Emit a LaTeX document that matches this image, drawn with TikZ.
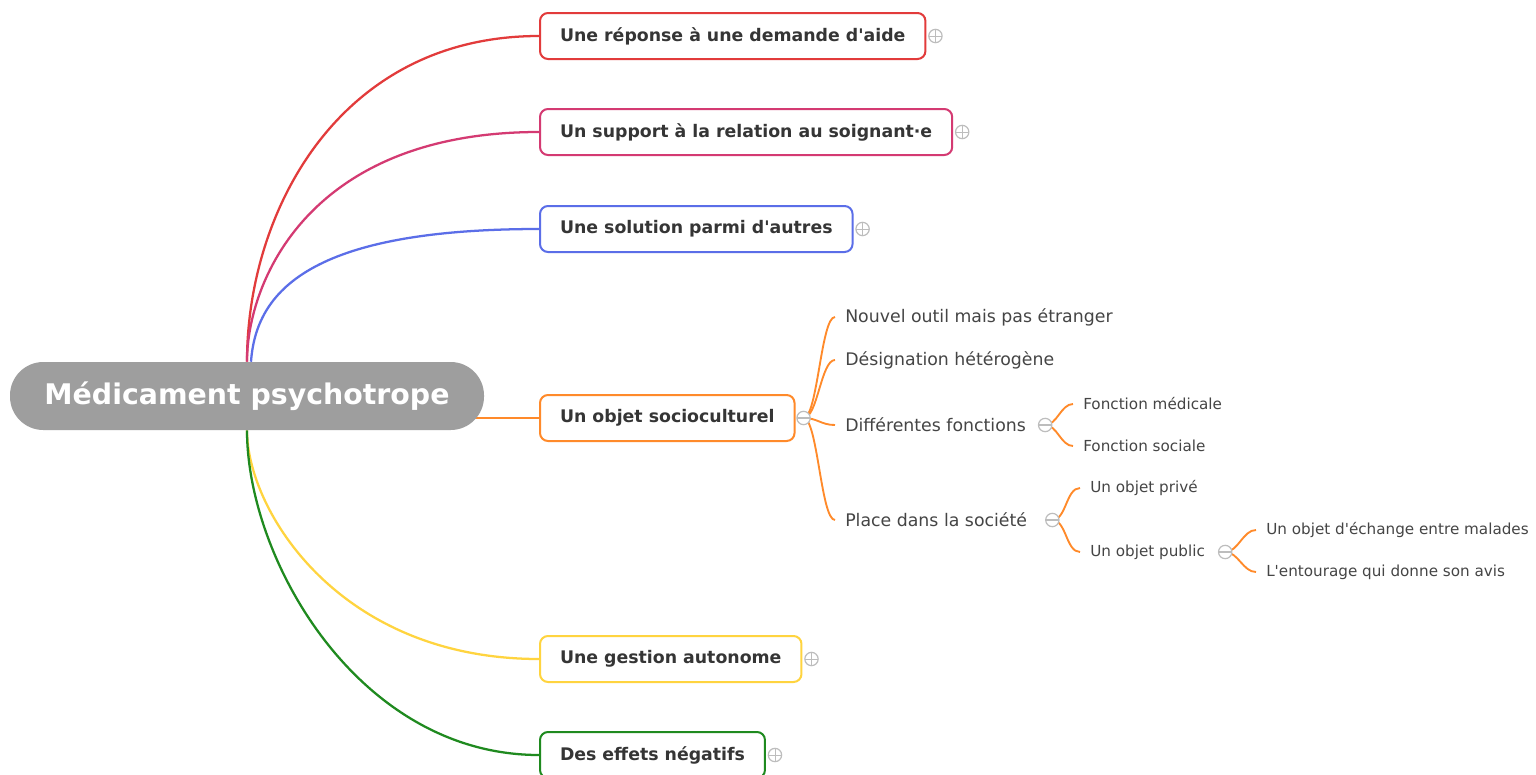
\documentclass[tikz,border=0pt]{standalone}
\usepackage{fontspec}
\setmainfont{DejaVu Sans}[Ligatures=TeXOff]
\usetikzlibrary{calc}
\definecolor{cred}{HTML}{E23B3B}
\definecolor{cpink}{HTML}{D43A72}
\definecolor{cblue}{HTML}{5B6EE8}
\definecolor{corange}{HTML}{FF8A2A}
\definecolor{cyellow}{HTML}{FFD43F}
\definecolor{cgreen}{HTML}{1F8A1F}
\definecolor{ccentral}{HTML}{9E9E9E}
\definecolor{ctext}{HTML}{353535}
\definecolor{cleaf}{HTML}{454545}
\definecolor{ctog}{HTML}{BDBDBD}
\pgfdeclarelayer{bg}
\pgfsetlayers{bg,main}
\tikzset{
  central/.style={fill=ccentral, rounded corners=25pt, minimum width=355.5pt, minimum height=51pt,
    text=white, font=\bfseries\fontsize{21.3}{25}\selectfont, inner sep=0pt},
  topic/.style={draw=#1, line width=1.5pt, fill=white, rounded corners=6pt, minimum height=34.5pt,
    inner xsep=15pt, anchor=west, text=ctext, font=\bfseries\fontsize{13}{16}\selectfont},
  leaftwo/.style={anchor=west, inner xsep=7.5pt, inner ysep=2pt, text=cleaf, font=\fontsize{13}{16}\selectfont},
  leafthree/.style={anchor=west, inner xsep=7.5pt, inner ysep=2pt, text=cleaf, font=\fontsize{11.4}{14}\selectfont},
  tog/.style={circle, draw=ctog, line width=0.9pt, fill=white, minimum size=10pt, inner sep=0pt},
  plustog/.style={tog, path picture={\draw[ctog, line width=0.6pt]
      (path picture bounding box.west) -- (path picture bounding box.east)
      (path picture bounding box.north) -- (path picture bounding box.south);}},
  minustog/.style={tog, path picture={\draw[ctog, line width=0.9pt]
      (path picture bounding box.west) -- (path picture bounding box.east);}},
  conn/.style={line width=1.7pt},
  subconn/.style={line width=1.4pt, corange},
}
\begin{document}
\begin{tikzpicture}[x=0.75pt, y=-0.75pt]
\useasboundingbox (0,0) rectangle (1536,775);

\node[central] (c) at (247,396) {Médicament psychotrope};

\node[topic=cred] (t1) at (539,36) {Une réponse à une demande d'aide};
\node[topic=cpink] (t2) at (539,132) {Un support à la relation au soignant·e};
\node[topic=cblue] (t3) at (539,229) {Une solution parmi d'autres};
\node[topic=corange] (t4) at (539,418) {Un objet socioculturel};
\node[topic=cyellow] (t5) at (539,659) {Une gestion autonome};
\node[topic=cgreen] (t6) at (539,755) {Des effets négatifs};

\node[plustog] (p1) at ($(t1.east)+(9,0)$) {};
\node[plustog] (p2) at ($(t2.east)+(9,0)$) {};
\node[plustog] (p3) at ($(t3.east)+(9,0)$) {};
\node[minustog] (m4) at ($(t4.east)+(8,0)$) {};
\node[plustog] (p5) at ($(t5.east)+(9,0)$) {};
\node[plustog] (p6) at ($(t6.east)+(9,0)$) {};

\node[leaftwo] (a1) at (835,317) {Nouvel outil mais pas étranger};
\node[leaftwo] (a2) at (835,360) {Désignation hétérogène};
\node[leaftwo] (a3) at (835,425) {Différentes fonctions};
\node[leaftwo] (a4) at (835,520) {Place dans la société};

\node[minustog] (m3) at ($(a3.east)+(9,0)$) {};
\node[minustog] (ma4) at ($(a4.east)+(15,0)$) {};

\node[leafthree] (f1) at (1073,404) {Fonction médicale};
\node[leafthree] (f2) at (1073,446) {Fonction sociale};
\node[leafthree] (o1) at (1080,488) {Un objet privé};
\node[leafthree] (o2) at (1080,552) {Un objet public};

\node[minustog] (mo2) at ($(o2.east)+(10,0)$) {};

\node[leafthree] (e1) at (1256,530) {Un objet d'échange entre malades};
\node[leafthree] (e2) at (1256,572) {L'entourage qui donne son avis};

\begin{pgfonlayer}{bg}
\fill[white] (0,0) rectangle (1536,775);
\draw[conn, cred] (c.north) .. controls +(0,-150) and +(-200,0) .. (t1.west);
\draw[conn, cpink] (c.north) .. controls +(0,-80) and +(-230,0) .. (t2.west);
\draw[conn, cblue] ($(c.north)+(4,0)$) .. controls +(5,-70) and +(-230,0) .. (t3.west);
\draw[conn, corange] (c.center |- t4.west) -- (t4.west);
\draw[conn, cyellow] (c.south) .. controls +(0,80) and +(-200,0) .. (t5.west);
\draw[conn, cgreen] (c.south) .. controls +(0,130) and +(-180,0) .. (t6.west);

\foreach \n in {a1,a2,a3,a4}
  \draw[subconn] (m4.center) .. controls +(14,0) and +(-14,0) .. (\n.west);
\foreach \n in {f1,f2}
  \draw[subconn] (m3.center) .. controls +(12,0) and +(-12,0) .. (\n.west);
\foreach \n in {o1,o2}
  \draw[subconn] (ma4.center) .. controls +(14,0) and +(-14,0) .. (\n.west);
\foreach \n in {e1,e2}
  \draw[subconn] (mo2.center) .. controls +(13,0) and +(-13,0) .. (\n.west);
\end{pgfonlayer}
\end{tikzpicture}
\end{document}
